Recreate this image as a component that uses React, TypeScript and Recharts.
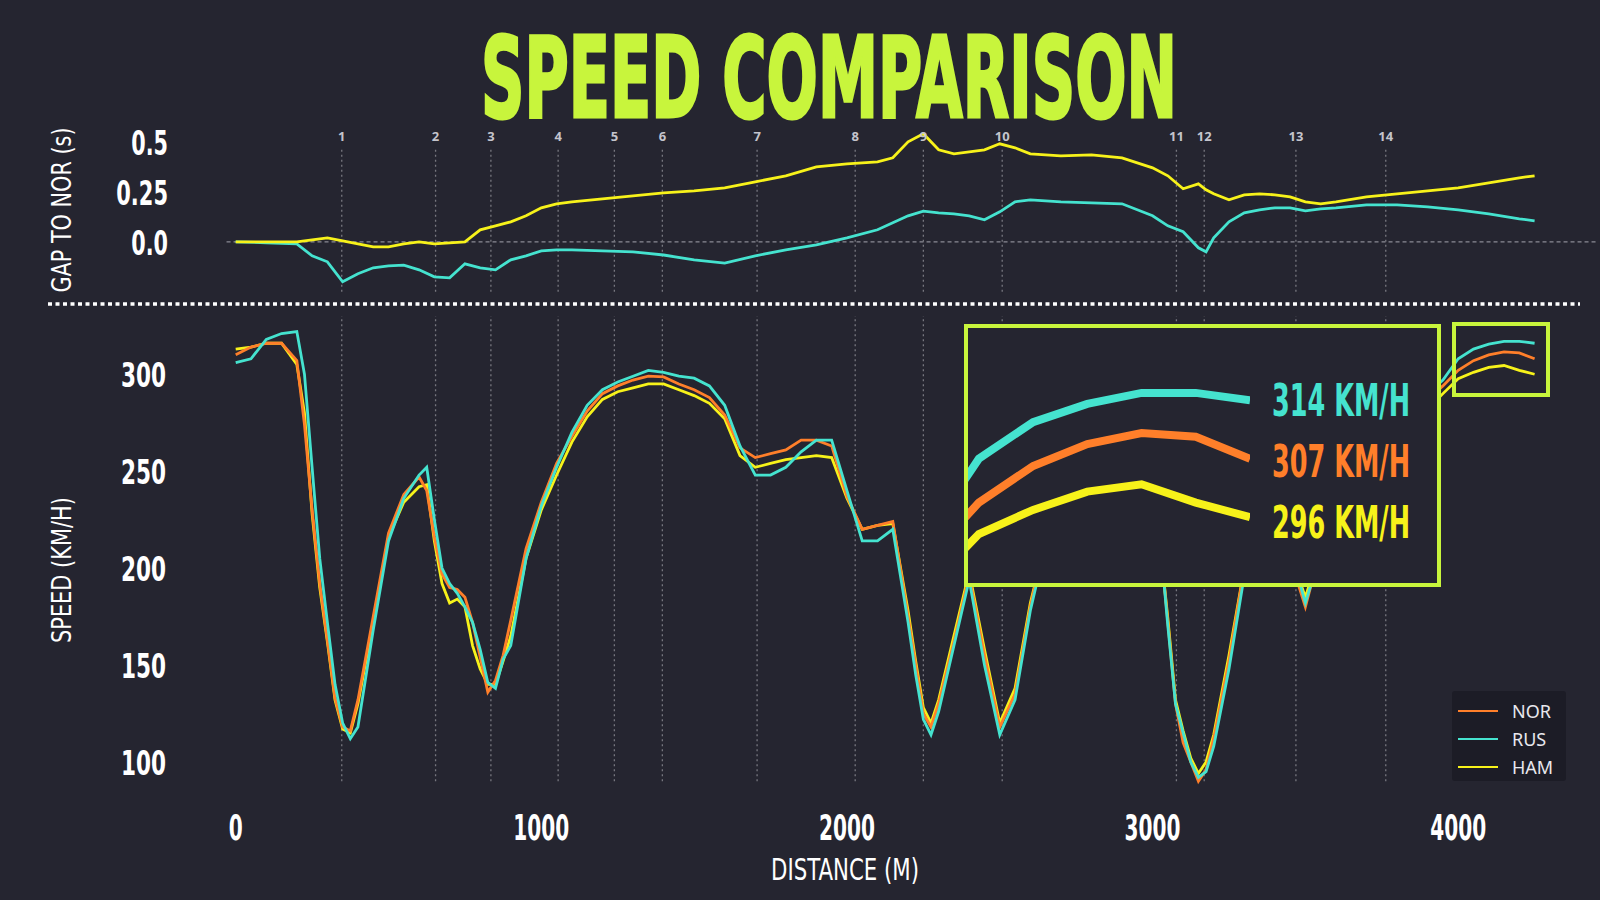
import React from 'react';
import { LineChart, Line, XAxis, YAxis, ReferenceLine } from 'recharts';

// speed trace, km/h against lap distance in metres
const distance = [0, 50, 100, 150, 200, 225, 250, 275, 300, 325, 350, 375, 400, 450, 500, 550, 600, 625, 650, 675, 700, 725, 750, 775, 800, 825, 850, 875, 900, 950, 1000, 1050, 1100, 1150, 1200, 1250, 1300, 1350, 1400, 1450, 1500, 1550, 1600, 1650, 1700, 1750, 1800, 1850, 1900, 1950, 2000, 2050, 2100, 2150, 2200, 2225, 2250, 2275, 2300, 2350, 2400, 2450, 2500, 2550, 2600, 2650, 2700, 2800, 2900, 3000, 3050, 3075, 3100, 3125, 3150, 3175, 3200, 3250, 3300, 3350, 3400, 3450, 3500, 3550, 3600, 3700, 3800, 3900, 3950, 4000, 4050, 4100, 4150, 4200, 4250];
const norSpeed = [310, 314, 316, 316, 307, 274, 230, 192, 163, 133, 118, 116, 132, 175, 218, 238, 247, 240, 216, 197, 190, 189, 185, 172, 154, 136, 142, 155, 173, 210, 234, 254, 268, 281, 290, 294, 297, 299, 298.6, 295, 292, 288, 279, 262, 257, 259, 261, 266, 266, 263, 237, 220, 222, 224, 175, 150, 125, 118, 130, 162, 196, 155, 118, 135, 180, 215, 245, 280, 295, 255, 172, 130, 110, 100, 90, 96, 112, 152, 200, 225, 232, 205, 180, 210, 235, 260, 275, 287, 294, 302, 307, 310, 311.5, 311, 308];
const rusSpeed = [306, 308, 318, 321, 322, 300, 252, 205, 172, 140, 120, 112, 118, 168, 214, 236, 248, 252, 225, 200, 192, 187, 180, 172, 158, 141, 138, 153, 160, 205, 232, 252, 270, 284, 292, 296, 299, 302, 301, 299, 298, 294, 284, 263, 248, 248, 252, 260, 266, 266, 240, 214, 214, 220, 172, 145, 122, 114, 126, 160, 194, 150, 114, 132, 178, 212, 244, 282, 298, 258, 170, 130, 115, 100, 92, 95, 108, 148, 196, 226, 234, 210, 182, 208, 236, 262, 278, 290, 297, 308, 313, 315.5, 317, 317, 316];
const hamSpeed = [313, 314, 316, 316, 305, 280, 228, 190, 162, 132, 117, 115, 130, 172, 216, 234, 242, 243, 214, 192, 182, 184, 180, 160, 148, 140, 140, 152, 165, 205, 230, 248, 265, 278, 287, 291, 293, 295, 295, 292, 289, 285, 277, 258, 252, 254, 256, 257, 258, 257, 236, 220, 222, 223, 178, 152, 128, 120, 132, 165, 198, 158, 120, 138, 182, 214, 242, 275, 288, 250, 174, 132, 116, 102, 94, 100, 114, 155, 200, 222, 228, 208, 185, 210, 232, 255, 270, 282, 290, 297.7, 301, 303.5, 304.5, 302, 300];

// gap to NOR, seconds
const gapDistance = [0, 100, 200, 250, 300, 350, 400, 450, 500, 550, 600, 650, 700, 750, 800, 850, 900, 950, 1000, 1050, 1100, 1200, 1300, 1400, 1500, 1600, 1700, 1800, 1900, 2000, 2100, 2150, 2200, 2250, 2300, 2350, 2400, 2450, 2500, 2550, 2600, 2700, 2800, 2900, 3000, 3050, 3100, 3150, 3175, 3200, 3250, 3300, 3350, 3400, 3450, 3500, 3550, 3600, 3700, 3800, 3900, 4000, 4100, 4200, 4250];
const hamGap = [0, 0, 0, 0.01, 0.02, 0.005, -0.01, -0.025, -0.025, -0.01, 0, -0.01, -0.005, 0, 0.06, 0.08, 0.1, 0.13, 0.17, 0.19, 0.2, 0.215, 0.23, 0.245, 0.255, 0.27, 0.3, 0.33, 0.375, 0.39, 0.4, 0.42, 0.5, 0.54, 0.46, 0.44, 0.45, 0.46, 0.49, 0.47, 0.44, 0.43, 0.435, 0.42, 0.37, 0.33, 0.265, 0.29, 0.26, 0.24, 0.21, 0.235, 0.24, 0.235, 0.225, 0.2, 0.19, 0.2, 0.225, 0.24, 0.255, 0.27, 0.295, 0.32, 0.33];
const rusGap = [0, -0.005, -0.01, -0.07, -0.1, -0.2, -0.16, -0.13, -0.12, -0.117, -0.14, -0.175, -0.18, -0.11, -0.13, -0.14, -0.09, -0.07, -0.045, -0.04, -0.04, -0.045, -0.05, -0.066, -0.09, -0.107, -0.07, -0.04, -0.015, 0.02, 0.06, 0.095, 0.13, 0.153, 0.145, 0.14, 0.13, 0.11, 0.15, 0.2, 0.21, 0.2, 0.195, 0.19, 0.13, 0.08, 0.05, -0.03, -0.05, 0.02, 0.1, 0.145, 0.16, 0.17, 0.17, 0.155, 0.165, 0.17, 0.185, 0.185, 0.175, 0.16, 0.14, 0.115, 0.105];

const corners = [347, 654, 835, 1055, 1239, 1396, 1706, 2027, 2250, 2508, 3078, 3169, 3469, 3763];
const speedTicks = [100, 150, 200, 250, 300];
const gapTicks = [0, 0.25, 0.5];
const gapTickLabels = ['0.0', '0.25', '0.5'];
const distTicks = [0, 1000, 2000, 3000, 4000];
const insetLabels = ['314 KM/H', '307 KM/H', '296 KM/H'];

const NOR = '#ff7f2a';
const RUS = '#45e3cf';
const HAM = '#f7f21a';
const LIME = '#c8f53c';
const BG = '#252530';
const COND = "'DejaVu Sans Condensed', 'DejaVu Sans', sans-serif";

const speedData = distance.map((d, i) => ({ d, nor: norSpeed[i], rus: rusSpeed[i], ham: hamSpeed[i] }));
const gapData = gapDistance.map((d, i) => ({ d, ham: hamGap[i], rus: rusGap[i] }));
const tailData = speedData.filter((p) => p.d >= 3900);

function digitWidth(s: string, w: number) {
  return s.split('').reduce((a, c) => a + (c === '.' ? w * 0.45 : w), 0);
}

const GapTick = (props: any) => {
  const { y, payload } = props;
  const label = gapTickLabels[gapTicks.indexOf(payload.value)] ?? String(payload.value);
  return (
    <text x={168} y={y + 13} textAnchor="end" fill="#fff" fontFamily={COND} fontWeight={700} fontSize={34}
      textLength={digitWidth(label, 15)} lengthAdjust="spacingAndGlyphs">{label}</text>
  );
};

const SpeedTick = (props: any) => {
  const { y, payload } = props;
  const label = String(payload.value);
  return (
    <text x={166} y={y + 13} textAnchor="end" fill="#fff" fontFamily={COND} fontWeight={700} fontSize={34}
      textLength={digitWidth(label, 15)} lengthAdjust="spacingAndGlyphs">{label}</text>
  );
};

const DistTick = (props: any) => {
  const { x, payload } = props;
  const label = String(payload.value);
  return (
    <text x={x} y={840} textAnchor="middle" fill="#fff" fontFamily={COND} fontWeight={700} fontSize={36}
      textLength={digitWidth(label, 14)} lengthAdjust="spacingAndGlyphs">{label}</text>
  );
};

export default function App() {
  return (
    <div style={{ position: 'absolute', left: 0, top: 0, width: 1600, height: 900, background: BG, overflow: 'hidden', fontFamily: 'Noto Sans, sans-serif' }}>
      {/* gap chart */}
      <div style={{ position: 'absolute', left: 0, top: 0 }}>
        <LineChart width={1600} height={310} data={gapData} margin={{ top: 121.8, bottom: 18.2, left: 155.7, right: 65.4 }}>
          <XAxis dataKey="d" type="number" domain={[0, 4250]} hide />
          <YAxis type="number" domain={[-0.25, 0.6]} ticks={gapTicks} width={80} axisLine={false} tickLine={false} tick={<GapTick />} />
          <ReferenceLine segment={[{ x: -30, y: 0 }, { x: 4450, y: 0 }]} ifOverflow="visible" stroke="#8a8a94" strokeDasharray="4 3" strokeWidth={1.2} />
          {corners.map((c, i) => (
            <ReferenceLine key={c} segment={[{ x: c, y: -0.25 }, { x: c, y: 0.47 }]} stroke="#77777f" strokeDasharray="2 3" strokeWidth={1.3}
              label={{ value: String(i + 1), position: 'top', fill: '#c4c4cc', fontSize: 13, fontWeight: 700, offset: 7 }} />
          ))}
          <Line dataKey="rus" stroke={RUS} strokeWidth={2.8} dot={false} isAnimationActive={false} />
          <Line dataKey="ham" stroke={HAM} strokeWidth={2.8} dot={false} isAnimationActive={false} />
        </LineChart>
      </div>

      {/* speed chart */}
      <div style={{ position: 'absolute', left: 0, top: 0 }}>
        <LineChart width={1600} height={900} data={speedData} margin={{ top: 316.1, bottom: 58.7, left: 155.7, right: 65.4 }}>
          <XAxis dataKey="d" type="number" domain={[0, 4250]} ticks={distTicks} height={60} axisLine={false} tickLine={false} tick={<DistTick />} />
          <YAxis type="number" domain={[95, 330]} ticks={speedTicks} width={80} axisLine={false} tickLine={false} tick={<SpeedTick />} />
          {corners.map((c) => (
            <ReferenceLine key={c} x={c} stroke="#77777f" strokeDasharray="2 3" strokeWidth={1.3} />
          ))}
          <Line dataKey="ham" stroke={HAM} strokeWidth={2.8} dot={false} isAnimationActive={false} />
          <Line dataKey="nor" stroke={NOR} strokeWidth={2.8} dot={false} isAnimationActive={false} />
          <Line dataKey="rus" stroke={RUS} strokeWidth={2.8} dot={false} isAnimationActive={false} />
        </LineChart>
      </div>

      {/* text and separator */}
      <svg width={1600} height={900} style={{ position: 'absolute', left: 0, top: 0, pointerEvents: 'none' }}>
        <text x={829} y={117} textAnchor="middle" fill={LIME} stroke={LIME} strokeWidth={3} fontFamily={COND} fontWeight={700} fontSize={112}
          textLength={696} lengthAdjust="spacingAndGlyphs">SPEED COMPARISON</text>
        <line x1={48} y1={304} x2={1580} y2={304} stroke="#fff" strokeWidth={3.5} strokeDasharray="4 3.5" />
        <text transform="translate(71,210) rotate(-90)" textAnchor="middle" fill="#fff" fontFamily={COND} fontSize={26}
          textLength={165} lengthAdjust="spacingAndGlyphs">GAP TO NOR (s)</text>
        <text transform="translate(71,570) rotate(-90)" textAnchor="middle" fill="#fff" fontFamily={COND} fontSize={26}
          textLength={146} lengthAdjust="spacingAndGlyphs">SPEED (KM/H)</text>
        <text x={845} y={880} textAnchor="middle" fill="#fff" fontFamily={COND} fontSize={30}
          textLength={148} lengthAdjust="spacingAndGlyphs">DISTANCE (M)</text>
      </svg>

      {/* small box around the lap end */}
      <div style={{ position: 'absolute', left: 1452, top: 322, width: 90, height: 67, border: `4px solid ${LIME}` }} />

      {/* inset */}
      <div style={{ position: 'absolute', left: 964, top: 324, width: 469, height: 255, border: `4px solid ${LIME}`, background: BG, overflow: 'hidden' }}>
        <LineChart width={469} height={255} data={tailData} margin={{ top: 2, bottom: 0, left: 0, right: 187 }}>
          <XAxis dataKey="d" type="number" domain={[3990, 4250]} allowDataOverflow hide />
          <YAxis type="number" domain={[291, 325.6]} allowDataOverflow hide />
          <Line dataKey="ham" stroke={HAM} strokeWidth={8} dot={false} isAnimationActive={false} />
          <Line dataKey="nor" stroke={NOR} strokeWidth={8} dot={false} isAnimationActive={false} />
          <Line dataKey="rus" stroke={RUS} strokeWidth={8} dot={false} isAnimationActive={false} />
        </LineChart>
        <svg width={469} height={255} style={{ position: 'absolute', left: 0, top: 0 }}>
          {insetLabels.map((t, i) => (
            <text key={t} x={304} y={88 + i * 61} fill={[RUS, NOR, HAM][i]} fontFamily={COND} fontWeight={700} fontSize={44}
              textLength={138} lengthAdjust="spacingAndGlyphs">{t}</text>
          ))}
        </svg>
      </div>

      {/* legend */}
      <div style={{ position: 'absolute', left: 1452, top: 691, width: 114, height: 90, background: '#1c1c26', borderRadius: 3 }}>
        {[['NOR', NOR], ['RUS', RUS], ['HAM', HAM]].map(([n, c], i) => (
          <div key={n} style={{ position: 'absolute', left: 6, top: 8 + i * 28, display: 'flex', alignItems: 'center' }}>
            <div style={{ width: 40, height: 2.5, background: c }} />
            <span style={{ marginLeft: 14, color: '#e8e8ee', fontSize: 18 }}>{n}</span>
          </div>
        ))}
      </div>
    </div>
  );
}
